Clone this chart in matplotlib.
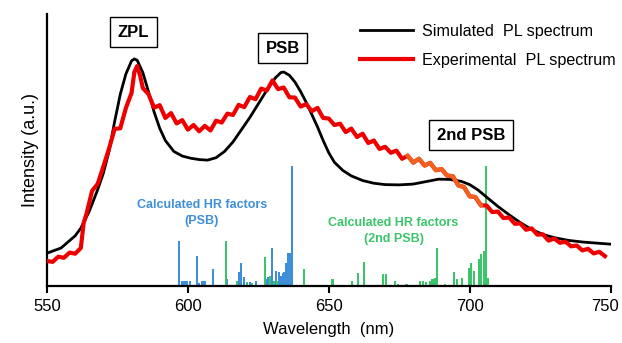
import numpy as np
import matplotlib
matplotlib.use("Agg")
from matplotlib import pyplot as plt
import matplotlib.transforms as mtransforms

plt.rcParams['font.family'] = ['Liberation Sans', 'DejaVu Sans']

# Simulated PL spectrum (smooth)
sim_wl = [550, 555, 560, 562, 565, 568, 570, 572, 574, 576, 578, 580, 581, 582, 584,
          586, 588, 590, 592, 595, 598, 601, 604, 607, 610, 613, 616, 619, 622, 625,
          628, 631, 633, 634, 636, 638, 640, 642, 644, 646, 648, 650, 652, 655, 658,
          662, 666, 670, 675, 680, 685, 689, 693, 697, 700, 703, 706, 710, 714, 718,
          722, 726, 730, 735, 740, 745, 750]
sim_int = [12.1, 14.0, 18.5, 21.3, 27.5, 35.5, 41.5, 49.5, 60.5, 70.5, 78.0, 82.8, 83.5, 83.0, 78.5,
           71.5, 64.0, 58.0, 53.5, 49.5, 47.8, 47.0, 46.5, 46.3, 47.2, 49.5, 53.0, 57.5, 62.0, 67.0,
           72.0, 76.5, 78.5, 78.7, 77.5, 75.0, 71.5, 67.5, 63.0, 58.5, 53.5, 49.0, 45.5, 42.5, 40.5,
           38.8, 37.8, 37.3, 37.2, 37.5, 38.5, 39.3, 39.2, 38.5, 37.3, 35.3, 32.7, 29.3, 26.2, 23.3,
           20.8, 19.0, 17.8, 16.8, 16.2, 15.8, 15.4]

# Experimental PL spectrum (noisy)
exp_wl = [550, 552, 554, 556, 558, 560, 562, 563, 564, 566, 568, 570, 572, 574, 576, 578, 580,
          581, 582, 583, 584, 586, 588, 590, 592, 594, 596, 598, 600, 602, 604, 606, 608, 610,
          612, 614, 616, 618, 620, 622, 624, 626, 628, 630, 632, 634, 636, 638, 640, 642, 644,
          646, 648, 650, 652, 654, 656, 658, 660, 662, 664, 666, 668, 670, 672, 674, 676, 678,
          680, 682, 684, 686, 688, 690, 692, 694, 696, 698, 700, 702, 704, 706, 708, 710, 712,
          714, 716, 718, 720, 722, 724, 726, 728, 730, 732, 734, 736, 738, 740, 742, 744, 746, 748]
exp_int = [9.2, 8.9, 10.8, 10.4, 12.3, 11.9, 14.0, 23.2, 26.5, 35.0, 37.6, 44.0, 50.5, 57.8, 58.0, 65.5, 71.0,
           78.7, 80.9, 77.5, 72.8, 70.6, 65.6, 66.5, 61.8, 63.6, 59.8, 61.0, 57.5, 59.2, 56.9, 58.9, 57.2, 60.8,
           60.1, 63.4, 62.9, 66.6, 65.8, 69.5, 68.7, 72.6, 71.9, 75.6, 72.4, 73.0, 69.4, 69.3, 66.0, 66.9, 64.3,
           65.5, 61.8, 61.6, 59.2, 59.7, 56.6, 57.9, 54.8, 56.0, 52.6, 53.5, 50.4, 51.2, 49.0, 49.8, 46.8, 47.9,
           45.4, 46.8, 44.3, 45.3, 42.6, 43.0, 40.6, 40.4, 37.0, 36.4, 33.0, 32.7, 29.7, 29.6, 27.2, 27.4, 25.0,
           25.2, 22.9, 23.0, 20.7, 21.2, 18.9, 19.0, 16.7, 17.5, 15.9, 16.3, 14.6, 14.9, 13.1, 13.7, 12.0, 12.6, 11.0]

# Calculated HR factors, PSB (blue)
hr_psb_wl = [596.9, 598.1, 598.9, 599.8, 600.7, 603.1, 604.0, 605.0, 605.9, 609.0, 613.9, 618.2,
             619.0, 619.9, 622.0, 624.1, 627.9, 628.6, 630.0, 631.2, 632.2, 632.9, 633.6, 634.3,
             635.0, 635.7, 636.4, 637.1]
hr_psb_h = [16.5, 1.8, 1.8, 1.8, 1.8, 11.0, 1.2, 1.8, 1.8, 6.4, 2.5, 5.1,
            8.6, 3.3, 1.6, 1.8, 2.5, 3.3, 14.1, 5.5, 5.3, 3.7, 4.9, 5.3,
            8.6, 12.3, 12.1, 44.1]

# Calculated HR factors, 2nd PSB (green)
hr_2psb_wl = [613.4, 617.3, 621.0, 622.6, 627.3, 629.1, 630.5, 631.7, 641.3, 651.3, 658.3, 660.5,
              662.5, 669.3, 670.2, 673.4, 674.6, 677.6, 682.5, 683.5, 684.6, 685.8, 686.8, 687.6,
              688.5, 691.4, 694.3, 695.5, 697.4, 699.7, 700.6, 701.4, 703.3, 704.1, 705.0, 705.7, 706.6]
hr_2psb_h = [16.5, 1.8, 1.6, 1.2, 10.8, 3.7, 1.8, 1.8, 6.1, 2.5, 1.8, 4.9,
             8.9, 4.5, 4.3, 1.8, 0.6, 0.6, 1.8, 2.0, 1.5, 2.0, 2.5, 3.1,
             14.1, 0.6, 5.1, 2.5, 2.8, 6.7, 8.6, 5.5, 9.8, 11.9, 12.9, 44.1, 2.8]

fig = plt.figure(figsize=(6.22, 3.43), dpi=100)
ax = fig.add_axes([0.0756, 0.166, 0.906, 0.793])

ax.bar(hr_psb_wl, hr_psb_h, width=0.75, color='#3f8fd8', zorder=2)
ax.bar(hr_2psb_wl, hr_2psb_h, width=0.75, color='#3cc46a', zorder=2)

ax.plot(sim_wl, sim_int, color='black', lw=2.0, zorder=3, label='Simulated  PL spectrum')
ax.plot(exp_wl, exp_int, color='#ee0000', lw=3.0, zorder=4, label='Experimental  PL spectrum')
ew = np.array(exp_wl)
ei = np.array(exp_int)
m = (ew >= 678) & (ew <= 704)
ax.plot(ew[m], ei[m], color='#f0601e', lw=3.0, zorder=5)

box = dict(boxstyle='square,pad=0.45', fc='white', ec='black', lw=1.0)
ax.text(580.7, 93.3, 'ZPL', ha='center', va='center', fontsize=12, fontweight='bold', bbox=box)
ax.text(633.7, 87.5, 'PSB', ha='center', va='center', fontsize=12, fontweight='bold', bbox=box)
ax.text(700.5, 55.5, '2nd PSB', ha='center', va='center', fontsize=12, fontweight='bold', bbox=box)

ax.text(605, 27.0, 'Calculated HR factors\n(PSB)', ha='center', va='center', fontsize=9,
        fontweight='bold', color='#3f8fd8', linespacing=1.45)
ax.text(673, 20.2, 'Calculated HR factors\n(2nd PSB)', ha='center', va='center', fontsize=9,
        fontweight='bold', color='#3cc46a', linespacing=1.45)

ax.legend(loc='upper left', bbox_to_anchor=(0.53, 1.017), frameon=False, fontsize=11.6,
          handlelength=3.3, handletextpad=0.55, labelspacing=0.85)

ax.set_xlim(550, 750)
ax.set_ylim(0, 100)
ax.set_xticks([550, 600, 650, 700, 750])
ax.set_yticks([])
ax.tick_params(axis='x', direction='out', length=5, width=1.5, labelsize=12, pad=4)
for s in ['top', 'right']:
    ax.spines[s].set_visible(False)
for s in ['left', 'bottom']:
    ax.spines[s].set_linewidth(1.6)
ax.set_xlabel('Wavelength  (nm)', fontsize=12, labelpad=6)
ax.set_ylabel('Intensity (a.u.)', fontsize=13, labelpad=6)

# last tick label sits a little left of its tick so it stays inside the figure
last = ax.get_xticklabels()[-1]
last.set_transform(last.get_transform() + mtransforms.ScaledTranslation(-6 / 100, 0, fig.dpi_scale_trans))

fig.savefig('out.png', dpi=100)
